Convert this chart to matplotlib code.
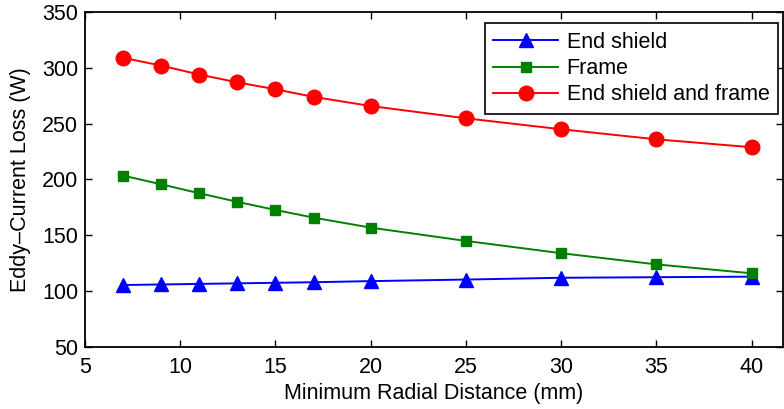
import numpy as np
from matplotlib import pyplot as plt

# Data
distance = [7, 9, 11, 13, 15, 17, 20, 25, 30, 35, 40]
end_shield = [105.5, 106, 106.5, 107, 107.5, 108, 109, 110.4, 112, 112.5, 113]
frame = [203.5, 195.7, 187.7, 180, 172.7, 165.9, 156.9, 145, 134, 124, 116]
both = [309, 302, 294, 287, 280.8, 274, 265.8, 254.8, 245, 236, 228.9]

plt.rcParams['font.family'] = ['Liberation Sans', 'DejaVu Sans']
plt.rcParams['font.size'] = 15.5

fig = plt.figure(figsize=(7.84, 4.09), dpi=100)
ax = fig.add_axes([85 / 784, 1 - 347 / 409, (783 - 85) / 784, (347 - 12) / 409])

ax.plot(distance, end_shield, color='blue', marker='^', markersize=10.5, lw=1.4, label='End shield')
ax.plot(distance, frame, color='green', marker='s', markersize=7.5, lw=1.4, label='Frame')
ax.plot(distance, both, color='red', marker='o', markersize=10.5, lw=1.4, label='End shield and frame')

ax.set_xlim(5, 41.65)
ax.set_ylim(50, 350)
ax.set_xticks([5, 10, 15, 20, 25, 30, 35, 40])
ax.set_yticks(np.arange(50, 351, 50))
ax.tick_params(direction='in', top=True, right=True, length=5, width=1)
ax.tick_params(axis='x', pad=7)
ax.tick_params(axis='y', pad=5)
for s in ax.spines.values():
    s.set_linewidth(1.3)

ax.set_xlabel('Minimum Radial Distance (mm)', labelpad=4)
ax.set_ylabel('Eddy\u2013Current Loss (W)', labelpad=8)

leg = ax.legend(loc='upper right', bbox_to_anchor=(0.993, 0.967), fancybox=False,
                edgecolor='black', framealpha=1, borderaxespad=0, handlelength=3.0,
                labelspacing=0.25, borderpad=0.4, handletextpad=0.4)
leg.get_frame().set_linewidth(1.2)

fig.savefig('out.png', dpi=100)
